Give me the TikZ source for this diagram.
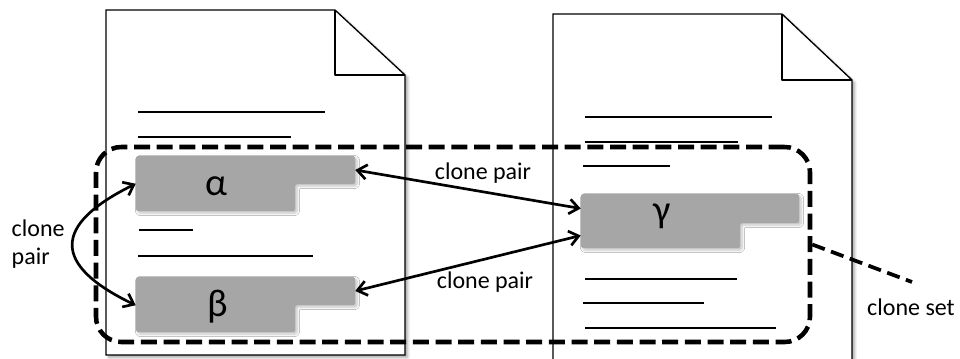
\documentclass[tikz,border=0pt]{standalone}
\usepackage{fontspec}
\setmainfont{Carlito}
\usetikzlibrary{arrows.meta, positioning, fit, shadows.blur}

\definecolor{blockgray}{HTML}{A6A6A6}

\tikzset{
    page/.style={draw, line width=1pt, fill=white,
        blur shadow={shadow xshift=2pt, shadow yshift=-2pt, shadow blur steps=6, shadow opacity=35}},
    fold/.style={line width=1pt, line join=round},
    textline/.style={line width=1pt},
    bar/.style={fill=blockgray, rounded corners=1.2pt,
        blur shadow={shadow xshift=1.5pt, shadow yshift=-1.5pt, shadow blur steps=5, shadow opacity=25}},
    area/.style={inner sep=0pt},
    greek/.style={font=\fontsize{29}{32}\selectfont},
    lbl/.style={font=\fontsize{18}{21}\selectfont},
    pairarrow/.style={<->, line width=2pt, >={Straight Barb[length=7pt, width=11pt]}},
    setbox/.style={draw, line width=3.4pt, dash pattern=on 12pt off 5pt, rounded corners=19pt, inner sep=0pt},
    setlink/.style={line width=2.8pt, dash pattern=on 10pt off 5pt}
}

% an L-shaped code fragment: top bar and narrower lower part
\newcommand{\fragment}[7]{%
    \fill[bar] (#2,#3) -- (#4,#3) -- (#4,#5) -- (#6,#5) -- (#6,#7) -- (#2,#7) -- cycle;
    \node[area, fit={(#2,#3) (#4,#5)}] (#1) {};
    \node[area, fit={(#2,#5) (#6,#7)}] (#1 low) {};
}

\begin{document}
\begin{tikzpicture}[x=0.75pt, y=-0.75pt]
    \useasboundingbox (0,0) rectangle (960,358);

    % the two files
    \draw[page] (106,10) -- (335,10) -- (405,75) -- (405,355) -- (106,355) -- cycle;
    \draw[fold] (335,10) -- (335,75) -- (405,75);
    \draw[page] (553,14) -- (782,14) -- (852,80) -- (852,380) -- (553,380) -- cycle;
    \draw[fold] (782,14) -- (782,80) -- (852,80);

    % ordinary code lines
    \foreach \y/\a/\b in {112/138/325, 137/138/291, 230/139/193, 256/138/313,
                          117/585/772, 142/585/738, 166/583/670,
                          279/585/737, 303/583/704, 328/585/776}
        \draw[textline] (\a,\y) -- (\b,\y);

    % code fragments
    \fragment{alpha}{136}{156}{355}{184}{295}{211}
    \node[greek] (alpha lbl) at (216,186) {α};

    \fragment{beta}{136}{277}{355}{305}{295}{332}
    \node[greek] (beta lbl) at (218,307) {β};

    \fragment{gamma}{581}{194}{799}{223}{740}{248}
    \node[greek] (gamma lbl) at (662,216) {γ};

    % the clone set
    \node[setbox, fit={(96,147) (810,342)}] (cloneset) {};
    \coordinate (setend) at (912,282);
    \draw[setlink] (cloneset.east) -- (setend);
    \node[lbl] (set lbl) at (911,307) {clone set};

    % clone pairs
    \draw[pairarrow] (alpha.east) -- (gamma.west);
    \draw[pairarrow] (beta.east) -- (gamma low.west);
    \draw[pairarrow] (alpha low.north west) .. controls (52,225) and (52,265) .. (beta.south west);
    \node[lbl] (pair top) at (483,173) {clone pair};
    \node[lbl] (pair bottom) at (485,282) {clone pair};
    \node[lbl, align=left, anchor=west] (pair left) at (7,244) {clone\\pair};
\end{tikzpicture}
\end{document}
